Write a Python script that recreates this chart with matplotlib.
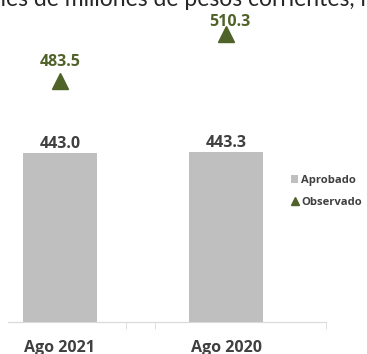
import matplotlib.pyplot as plt
from matplotlib.patches import Patch
from matplotlib.lines import Line2D

plt.rcParams['font.family'] = ['Open Sans', 'DejaVu Sans']

# datos
categorias = ['Ago 2021', 'Ago 2020']
aprobado = [443.0, 443.3]
observado = [483.5, 510.3]

gris_barra = '#bfbfbf'
verde = '#4f6228'
texto = '#404040'

fig = plt.figure(figsize=(3.67, 3.54), dpi=100)
ax = fig.add_axes([8 / 367, 32 / 354, 318 / 367, 322 / 354])

x = list(range(len(categorias)))
ax.bar(x, aprobado, width=0.45, color=gris_barra, zorder=2)
ax.plot(x, observado, linestyle='none', marker='^', markersize=11,
        color=verde, zorder=3)

for xi, v in zip(x, aprobado):
    ax.annotate(f'{v:.1f}', (xi, v), xytext=(0, 1), textcoords='offset points',
                ha='center', va='bottom', fontsize=11.5, fontweight='bold',
                color=texto)
# la etiqueta de 2020 queda pegada al marcador
desfases = [8, 3]
for xi, v, d in zip(x, observado, desfases):
    ax.annotate(f'{v:.1f}', (xi, v), xytext=(3 * xi, d), textcoords='offset points',
                ha='center', va='bottom', fontsize=11.5, fontweight='bold',
                color=verde)

ax.set_ylim(347.5, 529.4)
ax.set_xlim(-0.313, 1.602)

# ejes
for lado in ['top', 'right', 'left']:
    ax.spines[lado].set_visible(False)
ax.spines['bottom'].set_color('#d9d9d9')
ax.set_yticks([])
ax.set_xticks(x)
ax.set_xticklabels(categorias, fontsize=11.5, fontweight='bold', color=texto)
ax.tick_params(axis='x', which='major', length=0, pad=13)
ax.set_xticks([0.398, 0.572, 1.602], minor=True)
ax.tick_params(axis='x', which='minor', length=5, color='#d9d9d9')

# leyenda
handles = [
    Patch(facecolor=gris_barra, edgecolor='none'),
    Line2D([], [], linestyle='none', marker='^', markersize=6, color=verde),
]
fig.legend(handles, ['Aprobado', 'Observado'], loc='upper left',
           bbox_to_anchor=(291 / 367, 1 - 175 / 354), frameon=False,
           prop={'size': 8.1, 'weight': 'bold'}, labelcolor=texto,
           handlelength=0.65, handleheight=0.65, handletextpad=0.25,
           labelspacing=1.0, borderpad=0, borderaxespad=0)

# titulo (recortado por arriba)
fig.text(-25.6 / 367, 1 - 5.5 / 354, 'Miles de millones de pesos corrientes, m',
         fontsize=16.5, color='#262626', ha='left', va='baseline',
         family=['Lato', 'DejaVu Sans'])

fig.savefig('out.png', dpi=100)
